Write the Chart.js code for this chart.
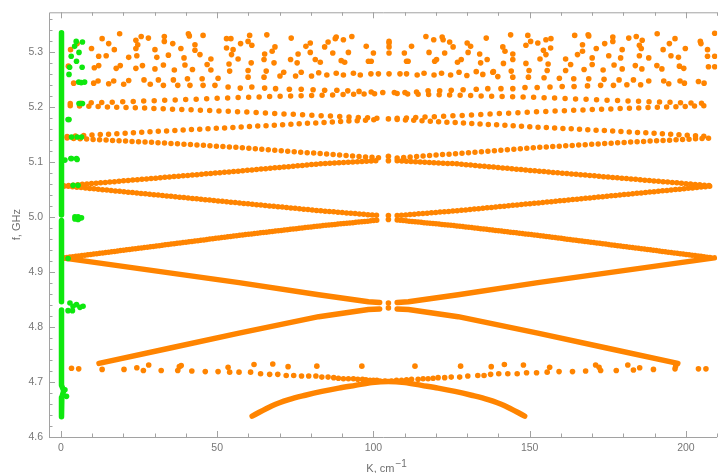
<!DOCTYPE html>
<html>
<head>
<meta charset="utf-8"/>
<title>Spin-wave bands</title>
<script src="https://cdn.jsdelivr.net/npm/chart.js@4.4.0/dist/chart.umd.min.js"></script>
<style>
  html, body { margin: 0; padding: 0; background: #fff; }
  canvas { display: block; }
</style>
</head>
<body>
<canvas id="bandChart" width="720" height="473"></canvas>
<script>
// axis ticks
const kTicks = [0, 50, 100, 150, 200];
const fTicks = [4.6, 4.7, 4.8, 4.9, 5.0, 5.1, 5.2, 5.3];

// green branch at K ~ 0
const greenStemTop = [[0.2, 5.336], [0.2, 5.004]];
const greenStemMid = [[0.2, 4.994], [0.2, 4.846]];
const greenStemLow = [[0.2, 4.831], [0.2, 4.694], [0.9, 4.684], [0.3, 4.672], [0.2, 4.637]];
const greenDots = [
  [4.9, 5.320], [6.9, 5.319], [4.4, 5.311], [5.8, 5.300], [3.3, 5.293], [5.0, 5.284],
  [6.8, 5.273], [2.8, 5.273], [2.6, 5.260], [5.7, 5.246], [6.5, 5.245], [7.6, 5.246],
  [5.8, 5.207], [6.9, 5.207], [2.3, 5.178], [2.6, 5.178], [3.4, 5.146], [5.2, 5.146],
  [6.6, 5.146], [1.3, 5.104], [3.2, 5.107], [3.4, 5.107], [5.0, 5.107], [5.2, 5.105],
  [3.9, 5.058], [5.5, 5.058], [4.5, 5.001], [5.5, 5.001], [6.6, 4.999], [5.5, 4.996],
  [4.5, 4.997], [6.0, 4.998], [2.3, 4.925], [2.9, 4.844], [5.0, 4.841], [7.1, 4.838],
  [3.9, 4.838], [6.1, 4.836], [2.3, 4.830], [3.7, 4.830], [1.3, 4.686], [1.8, 4.674]
];

// solid orange bands
const arcLow = [
  [61.2, 4.638], [67.6, 4.657], [72.9, 4.668], [78.2, 4.676], [83.5, 4.683], [88.9, 4.689],
  [94.2, 4.694], [99.5, 4.699], [104.8, 4.701], [110.1, 4.699], [115.4, 4.694], [120.7, 4.689],
  [126.1, 4.683], [131.4, 4.676], [136.7, 4.668], [142.0, 4.657], [148.4, 4.638]
];
const crossLowL = [[12.2, 4.734], [35, 4.762], [57, 4.789], [82.5, 4.819], [98.4, 4.832], [102, 4.833]];
const crossLowR = [[107.6, 4.833], [111.2, 4.832], [127.1, 4.819], [152.6, 4.789], [174.6, 4.762], [197.4, 4.734]];
const crossHighL = [[0.5, 4.926], [57, 4.881], [82.5, 4.859], [98.4, 4.846], [102, 4.845]];
const crossHighR = [[107.6, 4.845], [111.2, 4.846], [127.1, 4.859], [152.6, 4.881], [209.1, 4.926]];

// dotted orange bands, left and right halves
const riseA_L = [[1, 4.926], [57, 4.967], [82.5, 4.984], [102, 4.995]];
const riseA_R = [[107.6, 4.995], [127.1, 4.984], [152.6, 4.967], [208.6, 4.926]];
const fallB_L = [[1, 5.057], [57, 5.026], [82.5, 5.012], [102, 5.003]];
const fallB_R = [[107.6, 5.003], [127.1, 5.012], [152.6, 5.026], [208.6, 5.057]];
const riseB_L = [[1, 5.057], [57, 5.084], [82.5, 5.097], [102, 5.103]];
const riseB_R = [[107.6, 5.103], [127.1, 5.097], [152.6, 5.084], [208.6, 5.057]];
const fallC_L = [[2, 5.144], [30, 5.136], [57, 5.127], [82.5, 5.116], [102, 5.108]];
const fallC_R = [[107.6, 5.108], [127.1, 5.116], [152.6, 5.127], [179.6, 5.136], [207.6, 5.144]];
const riseC_L = [[2, 5.147], [30, 5.156], [57, 5.164], [82.5, 5.172], [102, 5.178]];
const riseC_R = [[107.6, 5.178], [127.1, 5.172], [152.6, 5.164], [179.6, 5.156], [207.6, 5.147]];
const fallD_L = [[3, 5.203], [30, 5.198], [57, 5.192], [82.5, 5.185], [102, 5.180]];
const fallD_R = [[107.6, 5.180], [127.1, 5.185], [152.6, 5.192], [179.6, 5.198], [206.6, 5.203]];
const riseD_L = [[3, 5.207], [30, 5.212], [57, 5.218], [82.5, 5.222], [102, 5.225]];
const riseD_R = [[107.6, 5.225], [127.1, 5.222], [152.6, 5.218], [179.6, 5.212], [206.6, 5.207]];

// points where the bands meet at the zone centre
const centreDots = [
  [104.8, 5.103], [104.8, 5.111], [104.8, 4.996], [104.8, 5.003],
  [104.8, 4.835], [104.8, 4.844], [104.8, 5.179]
];

// flat band near 4.72 GHz
const flatDots = [
  [3.4, 4.725], [5.7, 4.724], [13.2, 4.723], [20.2, 4.723], [24.3, 4.726], [26.4, 4.721],
  [28.1, 4.731], [32.1, 4.721], [37.4, 4.721], [37.9, 4.728], [38.5, 4.730], [41.9, 4.720],
  [46.2, 4.719], [50.3, 4.719], [53.5, 4.727], [54.0, 4.718], [57.0, 4.718], [60.7, 4.718],
  [61.8, 4.732], [63.9, 4.715], [66.8, 4.714], [67.8, 4.733], [69.4, 4.714], [72.1, 4.712],
  [72.7, 4.728], [74.5, 4.712], [77.0, 4.711], [79.3, 4.711], [81.6, 4.711], [81.9, 4.729],
  [83.5, 4.709], [85.5, 4.709], [87.3, 4.708], [88.8, 4.707], [90.4, 4.706], [92.0, 4.706],
  [93.6, 4.706], [95.0, 4.705], [96.3, 4.729], [96.5, 4.705], [97.6, 4.704], [98.9, 4.703],
  [100.0, 4.703], [101.1, 4.703], [102.1, 4.702], [103.7, 4.702], [105.8, 4.702], [107.4, 4.703],
  [109.0, 4.703], [110.6, 4.704], [112.2, 4.705], [113.3, 4.729], [114.3, 4.705], [115.9, 4.706],
  [117.5, 4.706], [119.1, 4.707], [120.7, 4.708], [122.8, 4.708], [124.9, 4.709], [127.6, 4.709],
  [127.9, 4.729], [130.2, 4.711], [133.4, 4.712], [135.4, 4.712], [137.5, 4.714], [137.7, 4.728],
  [140.1, 4.715], [141.9, 4.732], [143.0, 4.715], [146.0, 4.715], [148.0, 4.731], [149.0, 4.717],
  [152.2, 4.717], [155.6, 4.718], [156.4, 4.727], [159.4, 4.719], [163.7, 4.719], [167.9, 4.720],
  [171.1, 4.731], [172.2, 4.727], [172.7, 4.721], [177.7, 4.721], [181.4, 4.731], [183.2, 4.722],
  [185.2, 4.726], [189.6, 4.723], [196.5, 4.724], [196.7, 4.729], [204.0, 4.724], [206.4, 4.724]
];

// upper bands above 5.23 GHz
const topDots = [
  // K < 68
  [18.8, 5.334], [25.7, 5.329], [28.0, 5.326], [33.1, 5.329], [40.8, 5.334], [41.1, 5.330],
  [45.5, 5.331], [53.0, 5.325], [54.4, 5.325], [60.4, 5.331], [65.9, 5.332], [13.2, 5.325],
  [24.0, 5.322], [33.1, 5.320], [35.8, 5.316], [24.6, 5.314], [42.9, 5.314], [57.5, 5.316],
  [59.9, 5.320], [61.1, 5.313], [15.3, 5.316], [5.2, 5.316], [9.8, 5.307], [17.1, 5.305],
  [24.0, 5.307], [30.1, 5.305], [38.4, 5.307], [42.9, 5.304], [53.0, 5.308], [55.1, 5.305],
  [3.1, 5.305], [12.1, 5.293], [14.5, 5.294], [21.7, 5.291], [24.3, 5.294], [30.7, 5.291],
  [34.4, 5.295], [39.4, 5.290], [44.5, 5.296], [54.6, 5.296], [65.2, 5.297], [56.7, 5.288],
  [48.0, 5.288], [65.0, 5.287], [2.4, 5.275], [10.7, 5.272], [12.1, 5.276], [17.7, 5.271],
  [19.0, 5.276], [24.0, 5.271], [26.1, 5.276], [30.1, 5.270], [32.8, 5.277], [36.3, 5.268],
  [39.7, 5.277], [42.1, 5.269], [46.8, 5.278], [48.0, 5.268], [53.8, 5.279], [54.0, 5.266],
  [60.9, 5.281], [59.9, 5.267], [65.7, 5.266],
  [11.9, 5.248], [16.9, 5.248], [21.7, 5.249], [26.6, 5.250], [31.2, 5.250], [36.0, 5.250],
  [40.5, 5.252], [45.2, 5.252], [50.3, 5.253], [59.9, 5.255], [65.0, 5.255],
  [4.1, 5.244], [10.5, 5.244], [15.3, 5.243], [20.1, 5.242], [28.6, 5.242], [32.8, 5.240],
  [37.4, 5.240], [41.3, 5.240], [45.5, 5.240], [49.3, 5.240], [53.5, 5.237], [57.4, 5.235],
  [61.1, 5.237], [65.2, 5.235],
  // 68 < K < 138
  [73.7, 5.326], [68.5, 5.310], [67.6, 5.302], [68.2, 5.281], [78.4, 5.311], [79.8, 5.317],
  [79.8, 5.300], [75.9, 5.297], [73.5, 5.287], [75.6, 5.281], [81.4, 5.287], [83.0, 5.282],
  [84.4, 5.310], [85.5, 5.319], [87.8, 5.325], [88.1, 5.328], [90.4, 5.323], [93.1, 5.329],
  [87.0, 5.299], [92.0, 5.300], [89.7, 5.285], [90.8, 5.282], [97.7, 5.311], [100.0, 5.299],
  [98.4, 5.284], [99.3, 5.284], [105.0, 5.320], [105.0, 5.317], [105.0, 5.310], [105.0, 5.299],
  [109.9, 5.299], [112.2, 5.311], [110.6, 5.284], [111.1, 5.284], [116.8, 5.329], [119.3, 5.323],
  [122.0, 5.328], [122.3, 5.323], [124.4, 5.319], [125.5, 5.310], [117.8, 5.300], [122.8, 5.299],
  [119.6, 5.284], [120.2, 5.287], [126.9, 5.282], [128.1, 5.287], [130.0, 5.317], [131.1, 5.311],
  [130.3, 5.300], [134.0, 5.297], [136.4, 5.287], [134.3, 5.281], [136.1, 5.326],
  [70.1, 5.257], [71.3, 5.264], [75.1, 5.257], [76.9, 5.264], [80.2, 5.257], [82.5, 5.263],
  [85.1, 5.259], [88.1, 5.262], [90.4, 5.259], [93.6, 5.262], [95.8, 5.259], [99.2, 5.261],
  [101.6, 5.261], [105.0, 5.261], [108.5, 5.261], [110.6, 5.261], [114.0, 5.259], [116.2, 5.262],
  [119.4, 5.259], [121.8, 5.262], [124.7, 5.259], [127.4, 5.264], [129.9, 5.258], [132.9, 5.265],
  [135.0, 5.260], [138.2, 5.264],
  [68.7, 5.234], [73.1, 5.233], [76.9, 5.233], [80.7, 5.232], [84.4, 5.231], [88.3, 5.231],
  [91.8, 5.230], [95.4, 5.229], [99.3, 5.228], [103.0, 5.227], [106.7, 5.227], [110.1, 5.227],
  [113.8, 5.228], [117.5, 5.230], [121.2, 5.230], [124.9, 5.231], [128.7, 5.232], [132.9, 5.233],
  [136.6, 5.234],
  // K > 138
  [143.9, 5.332], [149.4, 5.331], [164.4, 5.331], [168.7, 5.332], [168.9, 5.330], [176.6, 5.328],
  [176.6, 5.320], [181.7, 5.326], [184.1, 5.329], [186.0, 5.322], [190.8, 5.334], [196.5, 5.325],
  [209.2, 5.335], [204.6, 5.320], [204.8, 5.316], [141.4, 5.310], [142.1, 5.302], [148.8, 5.313],
  [150.3, 5.320], [152.6, 5.317], [155.2, 5.323], [156.8, 5.325], [154.4, 5.304], [155.2, 5.296],
  [156.7, 5.308], [166.9, 5.314], [166.9, 5.302], [165.3, 5.296], [171.3, 5.307], [174.0, 5.316],
  [175.3, 5.294], [179.6, 5.305], [179.1, 5.290], [185.1, 5.313], [185.7, 5.307], [185.1, 5.294],
  [188.1, 5.290], [192.7, 5.305], [194.7, 5.316], [195.2, 5.294], [197.6, 5.291], [199.8, 5.307],
  [206.9, 5.305], [206.9, 5.293], [209.2, 5.293],
  [141.6, 5.280], [144.6, 5.297], [144.6, 5.287], [144.1, 5.266], [144.6, 5.255], [138.4, 5.265],
  [139.8, 5.256], [148.8, 5.280], [149.8, 5.267], [149.6, 5.255], [153.3, 5.288], [155.9, 5.279],
  [155.6, 5.267], [154.6, 5.254], [161.5, 5.288], [163.1, 5.278], [161.5, 5.267], [159.5, 5.253],
  [164.1, 5.252], [167.4, 5.269], [170.0, 5.290], [170.0, 5.278], [168.9, 5.252], [173.5, 5.268],
  [173.8, 5.251], [177.0, 5.277], [178.6, 5.250], [179.6, 5.270], [183.8, 5.276], [183.2, 5.250],
  [185.9, 5.270], [188.1, 5.248], [190.7, 5.276], [192.3, 5.270], [192.9, 5.248], [194.5, 5.243],
  [197.9, 5.275], [199.3, 5.271], [198.1, 5.248], [199.5, 5.244], [204.0, 5.247], [205.8, 5.244],
  [207.2, 5.274], [209.2, 5.274],
  [140.8, 5.234], [144.6, 5.234], [148.5, 5.236], [152.4, 5.236], [156.5, 5.237], [160.4, 5.238],
  [164.2, 5.238], [168.5, 5.239], [172.7, 5.240], [176.8, 5.240], [181.1, 5.241], [185.5, 5.241]
];

const ORANGE = 'rgb(255,132,0)';
const GREEN = 'rgb(14,232,14)';
const FONT = "'Liberation Sans', Arial, sans-serif";

const dots = (data, color) => ({
  data: data, showLine: false, pointRadius: 2.8, pointHoverRadius: 2.8,
  pointBackgroundColor: color, pointBorderWidth: 0
});

// a band drawn as a thick line; a gap turns it into a row of round dots
const band = (data, color, gap, smooth) => ({
  data: data, showLine: true, pointRadius: 0, pointHoverRadius: 0,
  borderColor: color, borderWidth: 5.5, borderCapStyle: 'round', borderJoinStyle: 'round',
  borderDash: gap ? [0, gap] : [], fill: false,
  tension: smooth ? 0.4 : 0, cubicInterpolationMode: smooth ? 'monotone' : 'default'
});

// first datasets end up on top
const datasets = [
  band(greenStemTop, GREEN), band(greenStemMid, GREEN), band(greenStemLow, GREEN),
  dots(greenDots, GREEN),
  dots(centreDots, ORANGE), dots(flatDots, ORANGE), dots(topDots, ORANGE),
  band(arcLow, ORANGE, 0, true),
  band(crossLowL, ORANGE), band(crossLowR, ORANGE),
  band(crossHighL, ORANGE), band(crossHighR, ORANGE),
  band(riseA_L, ORANGE, 3), band(riseA_R, ORANGE, 3),
  band(fallB_L, ORANGE, 4.3), band(fallB_R, ORANGE, 4.3),
  band(riseB_L, ORANGE, 4.6), band(riseB_R, ORANGE, 4.6),
  band(fallC_L, ORANGE, 6.5), band(fallC_R, ORANGE, 6.5),
  band(riseC_L, ORANGE, 8.3), band(riseC_R, ORANGE, 8.3),
  band(fallD_L, ORANGE, 9.3), band(fallD_R, ORANGE, 9.3),
  band(riseD_L, ORANGE, 10.5), band(riseD_R, ORANGE, 10.5)
];

// frame with inward ticks, Mathematica style
const framePlugin = {
  id: 'frame',
  beforeDatasetsDraw(chart) {
    const { ctx, chartArea: a, scales: { x, y } } = chart;
    ctx.save();
    ctx.strokeStyle = '#a2a2a2';
    ctx.lineWidth = 1;
    ctx.beginPath();
    ctx.moveTo(a.right, a.top + 0.5);
    ctx.lineTo(a.left + 0.5, a.top + 0.5);
    ctx.lineTo(a.left + 0.5, a.bottom + 0.5);
    ctx.lineTo(a.right, a.bottom + 0.5);
    for (let k = 0; k <= 210; k += 10) {
      const px = Math.round(x.getPixelForValue(k)) + 0.5;
      const len = kTicks.includes(k) ? 6 : 3.5;
      ctx.moveTo(px, a.bottom); ctx.lineTo(px, a.bottom - len);
      ctx.moveTo(px, a.top); ctx.lineTo(px, a.top + len);
    }
    for (let i = 0; i <= 38; i++) {
      const f = +(4.6 + i * 0.02).toFixed(2);
      const py = Math.round(y.getPixelForValue(f)) + 0.5;
      const len = i % 5 === 0 ? 6 : 3.5;
      ctx.moveTo(a.left, py); ctx.lineTo(a.left + len, py);
    }
    ctx.stroke();
    ctx.restore();
  },
  afterDraw(chart) {
    const { ctx, chartArea: a } = chart;
    ctx.save();
    ctx.fillStyle = '#6e6e6e';
    ctx.font = '11px ' + FONT;
    ctx.textAlign = 'center';
    ctx.textBaseline = 'middle';
    ctx.translate(17, (a.top + a.bottom) / 2);
    ctx.rotate(-Math.PI / 2);
    ctx.fillText('f, GHz', 0, 0);
    ctx.restore();

    ctx.save();
    ctx.fillStyle = '#6e6e6e';
    ctx.textAlign = 'left';
    ctx.textBaseline = 'alphabetic';
    ctx.font = '11px ' + FONT;
    const main = 'K, cm';
    const w1 = ctx.measureText(main).width;
    ctx.font = '10px ' + FONT;
    const w2 = ctx.measureText('\u22121').width;
    const x0 = (a.left + a.right) / 2 + 3.5 - (w1 + w2 + 1) / 2;
    ctx.font = '11px ' + FONT;
    ctx.fillText(main, x0, 472);
    ctx.font = '10px ' + FONT;
    ctx.fillText('\u22121', x0 + w1 + 1, 467);
    ctx.restore();
  }
};

new Chart(document.getElementById('bandChart'), {
  type: 'scatter',
  data: { datasets: datasets },
  options: {
    responsive: false,
    animation: false,
    devicePixelRatio: 1,
    events: [],
    layout: { padding: { top: 11, right: 0, left: 0, bottom: 0 } },
    plugins: { legend: { display: false }, tooltip: { enabled: false } },
    scales: {
      x: {
        type: 'linear', min: -3.8, max: 210,
        afterBuildTicks: s => { s.ticks = kTicks.map(v => ({ value: v })); },
        afterFit: s => { s.height = 36; },
        grid: { display: false, drawTicks: false },
        border: { display: false },
        ticks: { padding: 5, color: '#777', font: { family: FONT, size: 10.5 }, maxRotation: 0, callback: v => String(v) }
      },
      y: {
        type: 'linear', min: 4.6, max: 5.373,
        afterBuildTicks: s => { s.ticks = fTicks.map(v => ({ value: v })); },
        afterFit: s => { s.width = 49; },
        grid: { display: false, drawTicks: false },
        border: { display: false },
        ticks: { padding: 6, color: '#777', font: { family: FONT, size: 10.5 }, callback: v => v.toFixed(1) }
      }
    }
  },
  plugins: [framePlugin]
});
</script>
</body>
</html>
